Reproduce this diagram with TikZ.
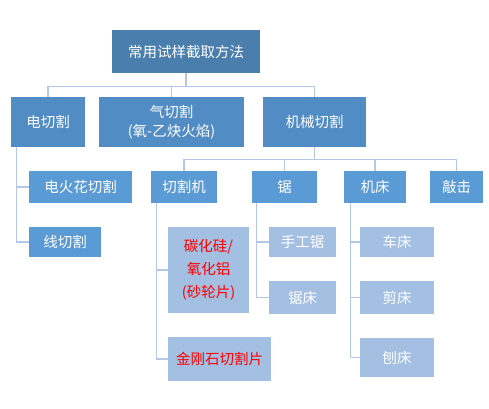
\documentclass[tikz,border=0pt]{standalone}
\usepackage{xcolor}
\usepackage{fontspec}
\newfontfamily\cjk{Noto Sans CJK SC}
\usepackage{tikz}

\definecolor{rootblue}{RGB}{74,126,173}
\definecolor{topblue}{RGB}{82,140,196}
\definecolor{midblue}{RGB}{91,155,213}
\definecolor{leafblue}{RGB}{163,191,226}
\definecolor{linkblue}{RGB}{180,199,230}

\begin{document}
\begin{tikzpicture}[x=1pt,y=-1pt,
  box/.style={inner sep=0pt,text=white,align=center,
    font=\cjk\fontsize{14.5}{19}\selectfont},
  rootbox/.style={box,fill=rootblue},
  topbox/.style={box,fill=topblue},
  midbox/.style={box,fill=midblue},
  leafbox/.style={box,fill=leafblue},
  link/.style={draw=linkblue,line width=1.3pt}]
\useasboundingbox (0,0) rectangle (489,408);
% top
\node[rootbox,minimum width=148pt,minimum height=43pt] (root) at (186,51.5) {常用试样截取方法};
\node[topbox,minimum width=74pt,minimum height=50pt] (dian) at (48,122) {电切割};
\node[topbox,minimum width=145pt,minimum height=50pt] (qi) at (171.5,122) {气切割\\(氧-乙炔火焰)};
\node[topbox,minimum width=103pt,minimum height=50pt] (jixie) at (314.5,122) {机械切割};
\draw[link] (root.south) -- ++(0,13) -| (dian.north);
\draw[link] (root.south) -- ++(0,13) -| (qi.north);
\draw[link] (root.south) -- ++(0,13) -| (jixie.north);
% 电切割
\node[midbox,minimum width=103pt,minimum height=32pt] (dhh) at (80.5,187) {电火花切割};
\node[midbox,minimum width=72pt,minimum height=30pt] (xian) at (65,242) {线切割};
\draw[link] ([xshift=6pt]dian.south west) |- (dhh.west);
\draw[link] ([xshift=6pt]dian.south west) |- (xian.west);
% 机械切割
\node[midbox,minimum width=66pt,minimum height=32pt] (qgj) at (184,187) {切割机};
\node[midbox,minimum width=65pt,minimum height=32pt] (ju) at (284.5,187) {锯};
\node[midbox,minimum width=62pt,minimum height=32pt] (jc) at (375,187) {机床};
\node[midbox,minimum width=53pt,minimum height=32pt] (qiao) at (456.5,187) {敲击};
\draw[link] (jixie.south) -- ++(0,12) -| (qgj.north);
\draw[link] (jixie.south) -- ++(0,12) -| (ju.north);
\draw[link] (jixie.south) -- ++(0,12) -| (jc.north);
\draw[link] (jixie.south) -- ++(0,12) -| (qiao.north);
% 切割机
\node[leafbox,text=red,font=\cjk\fontsize{14.5}{23}\selectfont,minimum width=81pt,minimum height=86pt] (thg) at (208.5,270) {碳化硅/\\氧化铝\\(砂轮片)};
\node[leafbox,text=red,minimum width=103pt,minimum height=44pt] (jgs) at (219.5,359) {金刚石切割片};
\draw[link] ([xshift=6pt]qgj.south west) |- (thg.west);
\draw[link] ([xshift=6pt]qgj.south west) |- (jgs.west);
% 锯
\node[leafbox,minimum width=67pt,minimum height=30pt] (sgj) at (302.5,242) {手工锯};
\node[leafbox,minimum width=67pt,minimum height=33pt] (juc) at (302.5,297.5) {锯床};
\draw[link] ([xshift=5pt]ju.south west) |- (sgj.west);
\draw[link] ([xshift=5pt]ju.south west) |- (juc.west);
% 机床
\node[leafbox,minimum width=74pt,minimum height=30pt] (chc) at (397,242) {车床};
\node[leafbox,minimum width=74pt,minimum height=33pt] (jianc) at (397,297.5) {剪床};
\node[leafbox,minimum width=74pt,minimum height=39pt] (bc) at (397,357.5) {刨床};
\draw[link] ([xshift=7pt]jc.south west) |- (chc.west);
\draw[link] ([xshift=7pt]jc.south west) |- (jianc.west);
\draw[link] ([xshift=7pt]jc.south west) |- (bc.west);
\end{tikzpicture}
\end{document}
